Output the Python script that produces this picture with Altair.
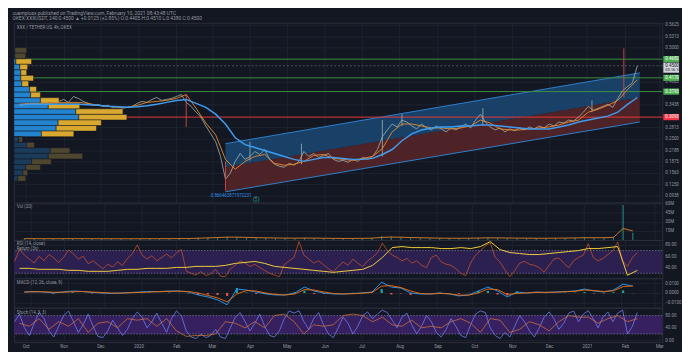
import altair as alt
import pandas as pd

# ---------------- texts ----------------
title_lines = [
    "cuemplusx published on TradingView.com, February 10, 2021 08:43:48 UTC",
    "OKEX:XXXUSDT, 240  0.4500 \u25b2 +0.0125 (+2.85%)  O:0.4405  H:0.4510  L:0.4380  C:0.4500",
]
symbol_label = "XXX / TETHER US, 4h, OKEX"
vol_label = "Vol (20)"
rsi_label = "RSI (14, close)"
ret_label = "Return (3x)"
macd_label = "MACD (12, 26, close, 9)"
stoch_label = "Stoch (14, 3, 3)"

# ---------------- time grid ----------------
fast_start = "2019-09-22"   # 4-day samples
slow_start = "2019-09-26"   # 8-day samples
months = [(2019, 10), (2019, 11), (2019, 12), (2020, 1), (2020, 2), (2020, 3),
          (2020, 4), (2020, 5), (2020, 6), (2020, 7), (2020, 8), (2020, 9),
          (2020, 10), (2020, 11), (2020, 12), (2021, 1), (2021, 2), (2021, 3)]

# ---------------- price (4-day) ----------------
close = [
    0.3443, 0.3470, 0.3497, 0.3524, 0.3470, 0.3416, 0.3497, 0.3551, 0.3470, 0.3524,
    0.3578, 0.3497, 0.3658, 0.3605, 0.3524, 0.3470, 0.3416, 0.3443, 0.3389, 0.3416,
    0.3362, 0.3389, 0.3335, 0.3362, 0.3389, 0.3470, 0.3524, 0.3497, 0.3578, 0.3631,
    0.3551, 0.3578, 0.3605, 0.3658, 0.3712, 0.3497, 0.3389, 0.3227, 0.3093, 0.2850,
    0.2635, 0.2419, 0.2015, 0.1395, 0.1557, 0.1880, 0.2096, 0.1934, 0.2015, 0.2150,
    0.2069, 0.2204, 0.1934, 0.1800, 0.1746, 0.1719, 0.1826, 0.1773, 0.1880, 0.2150,
    0.2015, 0.2096, 0.1988, 0.2042, 0.2096, 0.1934, 0.1880, 0.1907, 0.1853, 0.1934,
    0.1880, 0.1988, 0.1934, 0.2015, 0.2204, 0.2554, 0.2742, 0.2904, 0.2823, 0.3012,
    0.2958, 0.2850, 0.2769, 0.2904, 0.2796, 0.2742, 0.2850, 0.2769, 0.2689, 0.2796,
    0.2742, 0.2823, 0.2904, 0.2796, 0.3012, 0.3174, 0.2958, 0.2823, 0.2742, 0.2796,
    0.2689, 0.2769, 0.2716, 0.2796, 0.2742, 0.2823, 0.2769, 0.2850, 0.2796, 0.2904,
    0.2850, 0.2958, 0.2931, 0.3012, 0.2985, 0.3093, 0.3227, 0.3389, 0.3281, 0.3335,
    0.3389, 0.3443, 0.3362, 0.3605, 0.3820, 0.3928, 0.4036, 0.4500,
]
spike_dates = ["2020-02-09", "2020-03-12", "2020-04-01", "2020-05-13", "2020-07-18",
               "2020-08-03", "2020-10-08", "2021-01-05", "2021-01-31"]
spike_low = [0.2823, 0.1072, 0.1900, 0.1800, 0.2015, 0.2850, 0.2850, 0.3227, 0.3631]
spike_high = [0.3712, 0.1880, 0.2419, 0.2365, 0.3012, 0.3174, 0.3335, 0.3551, 0.4978]
spike_dir = ["down", "down", "up", "up", "up", "up", "up", "up", "down"]

# ---------------- moving averages (8-day) ----------------
ma_long = [
    0.3416, 0.3443, 0.3443, 0.3443, 0.3443, 0.3443, 0.3443, 0.3429, 0.3416, 0.3389,
    0.3376, 0.3362, 0.3376, 0.3402, 0.3443, 0.3497, 0.3551, 0.3578, 0.3470, 0.3362,
    0.3174, 0.2904, 0.2527, 0.2338, 0.2258, 0.2177, 0.2096, 0.2015, 0.1934, 0.1880,
    0.1934, 0.1988, 0.1988, 0.1961, 0.1934, 0.1934, 0.1961, 0.2069, 0.2204, 0.2446,
    0.2635, 0.2742, 0.2796, 0.2823, 0.2823, 0.2850, 0.2850, 0.2877, 0.2877, 0.2850,
    0.2823, 0.2796, 0.2769, 0.2769, 0.2769, 0.2823, 0.2877, 0.2958, 0.3012, 0.3066,
    0.3120, 0.3227, 0.3443, 0.3631,
]
ma_short = [
    0.3443, 0.3470, 0.3470, 0.3470, 0.3497, 0.3497, 0.3497, 0.3470, 0.3416, 0.3389,
    0.3362, 0.3362, 0.3416, 0.3497, 0.3524, 0.3551, 0.3605, 0.3712, 0.3335, 0.2931,
    0.2608, 0.1934, 0.1665, 0.1880, 0.2015, 0.2069, 0.1826, 0.1773, 0.1800, 0.1880,
    0.2042, 0.2069, 0.1961, 0.1934, 0.1907, 0.1961, 0.2015, 0.2231, 0.2689, 0.2904,
    0.2904, 0.2850, 0.2796, 0.2796, 0.2769, 0.2796, 0.2850, 0.3012, 0.2931, 0.2769,
    0.2742, 0.2742, 0.2769, 0.2796, 0.2823, 0.2877, 0.2958, 0.3012, 0.3227, 0.3308,
    0.3416, 0.3551, 0.3847, 0.4116,
]

# ---------------- regression channel & levels ----------------
channel_dates = ["2020-03-12", "2021-02-13"]
channel_top = [0.2365, 0.4305]
channel_mid = [0.1719, 0.3631]
channel_bot = [0.1045, 0.2958]
pearson_text = "0.866463871972231"
pearson_date = "2020-02-29"
pearson_price = 0.0937
event_date = "2020-04-06"
event_price = 0.0830
event_text = "5"
green_levels = [0.4682, 0.4170, 0.3793]
red_levels = [0.3093]
last_price = 0.4500
countdown = "03:16:16"
price_ticks = [0.09375, 0.125, 0.15625, 0.1875, 0.21875, 0.25, 0.28125,
               0.34375, 0.40625, 0.5, 0.53125, 0.5625]

# ---------------- volume profile ----------------
profile_edges = [0.5000, 0.4847, 0.4695, 0.4542, 0.4389, 0.4237, 0.4084, 0.3931, 0.3778,
                 0.3626, 0.3473, 0.3320, 0.3168, 0.3015, 0.2862, 0.2710, 0.2557, 0.2404,
                 0.2251, 0.2099, 0.1946, 0.1793, 0.1641, 0.1488, 0.1335]
profile_up = [1.5, 1.5, 3, 9, 10.5, 10.5, 12, 24, 25.5, 40.5, 52.5, 94.5, 99, 67.5, 64.5,
              42, 7.5, 19.5, 55.5, 52.5, 27, 18, 13.5, 6]
profile_down = [18, 16.5, 24, 12, 9, 19.5, 10.5, 10.5, 15, 28.5, 48, 72, 73.5, 66, 61.5,
                49.5, 6, 12, 30, 52.5, 30, 22.5, 7.5, 12]
profile_in_va = [False, False] + [True] * 14 + [False] * 8

# ---------------- volume (8-day, millions) ----------------
volume = [
    2.2, 2.0, 2.1, 1.9, 2.0, 2.3, 2.1, 1.9, 1.8, 1.9,
    1.8, 1.9, 2.0, 2.0, 2.1, 2.2, 2.3, 2.5, 3.5, 4.0,
    4.5, 5.5, 4.5, 3.8, 3.5, 3.2, 3.0, 2.8, 2.8, 3.5,
    2.8, 2.6, 2.5, 2.5, 2.6, 2.8, 3.2, 6.5, 5.5, 4.2,
    3.8, 3.4, 3.0, 2.8, 2.7, 2.8, 2.8, 3.5, 4.0, 3.2,
    3.0, 2.8, 2.8, 2.7, 2.8, 3.0, 3.2, 3.5, 4.0, 3.6,
    3.8, 5.0, 58.0, 12.0,
]
volume_ma = [
    2.1, 2.1, 2.0, 2.0, 2.0, 2.1, 2.1, 2.0, 1.9, 1.9,
    1.9, 1.9, 1.9, 2.0, 2.0, 2.1, 2.2, 2.3, 2.8, 3.4,
    4.0, 4.6, 4.6, 4.2, 3.8, 3.5, 3.2, 3.0, 2.9, 3.1,
    3.0, 2.8, 2.6, 2.5, 2.5, 2.6, 2.9, 4.2, 4.8, 4.5,
    4.0, 3.6, 3.3, 3.0, 2.8, 2.8, 2.8, 3.1, 3.5, 3.4,
    3.2, 3.0, 2.9, 2.8, 2.8, 2.9, 3.1, 3.3, 3.7, 3.7,
    3.7, 4.2, 19.0, 15.0,
]
vol_ticks = [15, 30, 45, 60]

# ---------------- RSI (4-day) & return line (8-day) ----------------
rsi = [
    51, 72, 62, 55, 48, 60, 52, 63, 57, 49,
    58, 71, 64, 55, 60, 47, 52, 45, 38, 46,
    41, 50, 44, 56, 64, 80, 62, 55, 61, 52,
    58, 64, 57, 66, 72, 34, 30, 27, 33, 26,
    29, 37, 25, 24, 38, 44, 52, 48, 42, 46,
    40, 35, 30, 27, 24, 45, 52, 58, 86, 62,
    55, 48, 52, 45, 38, 33, 42, 50, 44, 55,
    48, 42, 52, 58, 66, 83, 70, 62, 58, 52,
    56, 48, 52, 44, 40, 58, 62, 50, 46, 44,
    38, 30, 26, 48, 62, 70, 78, 84, 58, 50,
    36, 24, 35, 48, 51, 46, 44, 40, 32, 44,
    55, 57, 48, 40, 52, 58, 62, 82, 58, 52,
    56, 63, 70, 85, 52, 42, 58, 66,
]
ret_line = [
    38.7, 38.7, 37, 37, 37, 35.2, 35.2, 33.5, 33.5, 33.5,
    35.2, 37, 37, 38.7, 38.7, 38.7, 40.4, 40.4, 42.2, 42.2,
    42.2, 43.9, 47.4, 49.1, 50.9, 47.4, 42.2, 40.4, 38.7, 37,
    35.2, 33.5, 31.7, 33.5, 35.2, 37, 43.9, 57.8, 75.2, 77,
    75.2, 75.2, 75.2, 73.5, 73.5, 75.2, 73.5, 77, 85.7, 71.7,
    66.5, 64.8, 63, 63, 64.8, 66.5, 68.3, 70, 73.5, 73.5,
    75.2, 77, 26.5, 35.2,
]
rsi_band = [30, 70]
rsi_ticks = [40, 60, 80]

# ---------------- MACD (8-day) ----------------
macd = [
    0.0010, 0.0015, 0.0010, 0.0000, 0.0010, 0.0020, 0.0015, 0.0005, 0.0000, -0.0005,
    0.0000, 0.0005, 0.0010, 0.0015, 0.0015, 0.0020, 0.0020, 0.0010, -0.0020, -0.0040,
    -0.0070, -0.0120, 0.0040, 0.0030, 0.0010, -0.0010, -0.0020, -0.0020, 0.0000, 0.0060,
    0.0020, 0.0000, -0.0010, -0.0010, -0.0005, 0.0000, 0.0010, 0.0110, 0.0060, 0.0050,
    0.0000, -0.0010, -0.0010, 0.0000, -0.0010, -0.0030, -0.0020, 0.0020, 0.0060, 0.0020,
    -0.0040, 0.0010, 0.0000, 0.0010, 0.0005, 0.0010, 0.0015, 0.0020, 0.0040, 0.0020,
    0.0010, 0.0030, 0.0090, 0.0070,
]
signal = [
    0.0010, 0.0012, 0.0012, 0.0008, 0.0008, 0.0012, 0.0015, 0.0010, 0.0005, 0.0000,
    -0.0002, 0.0002, 0.0006, 0.0010, 0.0013, 0.0016, 0.0018, 0.0015, 0.0000, -0.0025,
    -0.0050, -0.0090, -0.0010, 0.0025, 0.0020, 0.0000, -0.0015, -0.0020, -0.0010, 0.0035,
    0.0030, 0.0010, -0.0005, -0.0010, -0.0008, -0.0002, 0.0005, 0.0070, 0.0075, 0.0055,
    0.0020, -0.0005, -0.0010, -0.0005, -0.0008, -0.0022, -0.0022, 0.0000, 0.0040, 0.0035,
    -0.0015, -0.0005, 0.0000, 0.0005, 0.0007, 0.0008, 0.0012, 0.0017, 0.0030, 0.0025,
    0.0015, 0.0022, 0.0065, 0.0072,
]
hist = [
    0.0000, 0.0003, -0.0002, -0.0008, 0.0002, 0.0008, 0.0000, -0.0005, -0.0005, -0.0005,
    0.0002, 0.0003, 0.0004, 0.0005, 0.0002, 0.0004, 0.0002, -0.0005, -0.0020, -0.0015,
    -0.0020, -0.0030, 0.0050, 0.0005, -0.0010, -0.0010, -0.0005, 0.0000, 0.0010, 0.0025,
    -0.0010, -0.0010, -0.0005, 0.0000, 0.0003, 0.0002, 0.0005, 0.0040, -0.0015, -0.0005,
    -0.0020, -0.0005, 0.0000, 0.0005, -0.0002, -0.0008, 0.0002, 0.0020, 0.0020, -0.0015,
    -0.0025, 0.0015, 0.0000, 0.0005, -0.0002, 0.0002, 0.0003, 0.0003, 0.0010, -0.0005,
    -0.0005, 0.0008, 0.0025, -0.0002,
]
macd_ticks = [-0.01, 0.0, 0.01]

# ---------------- Stochastic ----------------
stoch_k = [
    60, 85, 40, 15, 55, 90, 70, 30, 10, 45,
    80, 95, 60, 25, 50, 85, 45, 12, 8, 30,
    65, 40, 15, 35, 70, 92, 75, 40, 60, 88,
    55, 25, 70, 95, 80, 30, 10, 5, 20, 8,
    15, 35, 10, 5, 40, 75, 90, 60, 30, 55,
    85, 45, 15, 10, 30, 70, 95, 88, 96, 60,
    35, 70, 90, 50, 20, 8, 40, 75, 55, 20,
    45, 80, 92, 70, 85, 98, 90, 65, 40, 75,
    88, 50, 20, 45, 80, 60, 25, 10, 35, 70,
    45, 15, 8, 50, 85, 95, 90, 40, 15, 5,
    25, 10, 45, 80, 60, 30, 10, 40, 75, 92,
    70, 35, 55, 88, 95, 60, 85, 96, 70, 40,
    75, 92, 60, 88, 98, 20, 45, 90,
]
stoch_d = [
    55, 45, 70, 35, 60, 45, 70, 25, 55, 60,
    40, 70, 65, 70, 45, 70, 30, 12, 15, 15,
    20, 60, 55, 40, 60, 40, 80, 85, 60, 20,
    50, 45, 50, 80, 85, 80, 60, 75, 50, 45,
    65, 40, 45, 40, 60, 70, 55, 25, 70, 65,
    25, 35, 60, 50, 30, 60, 80, 75, 75, 55,
    70, 80, 60, 70,
]
stoch_band = [20, 80]
stoch_ticks = [0, 40, 80]

# ================= styling =================
BG = "#131722"
GRID = "#1f2330"
TXT = "#9598a1"
FONT = "Roboto"
W = 660
H_MAIN, H_VOL, H_RSI, H_MACD, H_STOCH = 183, 38, 39, 30, 35

X_DOMAIN = [alt.DateTime(year=2019, month=9, date=21, hours=10),
            alt.DateTime(year=2021, month=3, date=3, hours=10)]
MONTH_VALUES = [alt.DateTime(year=y, month=m, date=1) for y, m in months]


def x_axis(labels=False):
    return alt.Axis(values=MONTH_VALUES, grid=True, gridColor=GRID, gridWidth=1,
                    labels=labels, ticks=False, domain=False, title=None,
                    labelExpr="month(datum.value) == 0 ? timeFormat(datum.value, '%Y') : timeFormat(datum.value, '%b')",
                    labelFontSize=4.5, labelColor=TXT, labelFont=FONT, labelPadding=1.5,
                    labelFlush=False, labelOverlap=False)


def X(field, labels=False, axis=True):
    return alt.X(f"{field}:T", scale=alt.Scale(domain=X_DOMAIN),
                 axis=x_axis(labels) if axis else None)


def y_axis(values, fmt=None, expr=None):
    kw = dict(orient="right", values=values, grid=True, gridColor=GRID, ticks=False,
              domain=False, title=None, labelFontSize=4.5, labelColor=TXT, labelFont=FONT,
              labelPadding=2.5, labelOverlap=False, labelFlush=False)
    if fmt:
        kw["format"] = fmt
    if expr:
        kw["labelExpr"] = expr
    return alt.Axis(**kw)


def make_y(domain, axis):
    def f(field):
        return alt.Y(f"{field}:Q", scale=alt.Scale(domain=domain, nice=False, zero=False), axis=axis)
    return f


def label(text, x=3, y=5, color=TXT):
    return alt.Chart(pd.DataFrame({"d": [0]})).mark_text(
        text=text, align="left", baseline="middle", fontSize=4.5, font=FONT, color=color
    ).encode(x=alt.value(x), y=alt.value(y))


YP = make_y([0.0749, 0.5679], y_axis(price_ticks, fmt=".4f"))
YV = make_y([0, 62], y_axis(vol_ticks, expr="datum.value + 'M'"))
YR = make_y([21.3, 88.7], y_axis(rsi_ticks, fmt=".2f"))
YM = make_y([-0.015, 0.015], y_axis(macd_ticks, fmt=".4f"))
YS = make_y([-6.7, 105.7], y_axis(stoch_ticks, fmt=".2f"))

# ================= tables =================
fast_dates = pd.date_range(fast_start, periods=len(close), freq="4D")
slow_dates = pd.date_range(slow_start, periods=len(ma_long), freq="8D")
price_df = pd.DataFrame({"date": fast_dates, "close": close, "rsi": rsi, "k": stoch_k})
slow_df = pd.DataFrame({"date": slow_dates, "long": ma_long, "short": ma_short,
                        "vol": volume, "vma": volume_ma, "ret": ret_line,
                        "macd": macd, "signal": signal, "hist": hist, "d": stoch_d})
spike_df = pd.DataFrame({"date": pd.to_datetime(spike_dates), "lo": spike_low,
                         "hi": spike_high, "dir": spike_dir})
chan_df = pd.DataFrame({"date": pd.to_datetime(channel_dates), "top": channel_top,
                        "mid": channel_mid, "bot": channel_bot})
green_df = pd.DataFrame({"level": green_levels})
red_df = pd.DataFrame({"level": red_levels})
last_df = pd.DataFrame({"level": [last_price]})

BOX = 0.0085
box_rows = []
for v in green_levels:
    box_rows.append({"level": v, "lo": v - BOX, "hi": v + BOX, "text": f"{v:.4f}", "kind": "green"})
for v in red_levels:
    box_rows.append({"level": v, "lo": v - BOX, "hi": v + BOX, "text": f"{v:.4f}", "kind": "red"})
box_df = pd.DataFrame(box_rows)
last_box_df = pd.DataFrame({"level": [last_price], "lo": [last_price - 0.019],
                            "hi": [last_price + BOX], "text": [f"{last_price:.4f}"],
                            "sub": [last_price - 0.0115], "cd": [countdown]})
pearson_df = pd.DataFrame({"date": pd.to_datetime([pearson_date]), "p": [pearson_price]})
event_df = pd.DataFrame({"date": pd.to_datetime([event_date]), "p": [event_price]})

prof_rows = []
for k in range(len(profile_up)):
    tag = "va" if profile_in_va[k] else "out"
    lo, hi = profile_edges[k + 1], profile_edges[k]
    prof_rows.append({"lo": lo, "hi": hi, "x0": 0, "x1": profile_up[k], "kind": "up_" + tag})
    prof_rows.append({"lo": lo, "hi": hi, "x0": profile_up[k],
                      "x1": profile_up[k] + profile_down[k], "kind": "down_" + tag})
prof_df = pd.DataFrame(prof_rows)
band_rsi = pd.DataFrame({"lo": [rsi_band[0]], "hi": [rsi_band[1]]})
band_rsi_lines = pd.DataFrame({"v": rsi_band})
band_st = pd.DataFrame({"lo": [stoch_band[0]], "hi": [stoch_band[1]]})
band_st_lines = pd.DataFrame({"v": stoch_band})

# ================= main panel =================
bg_layers = alt.layer(
    alt.Chart(chan_df).mark_area(color="#1b4670", opacity=0.9).encode(x=X("date"), y=YP("mid"), y2="top"),
    alt.Chart(chan_df).mark_area(color="#552528", opacity=0.9).encode(x=X("date"), y=YP("bot"), y2="mid"),
    alt.Chart(chan_df).mark_line(color="#2e7fcf", strokeWidth=1).encode(x=X("date"), y=YP("top")),
    alt.Chart(chan_df).mark_line(color="#2e7fcf", strokeWidth=1).encode(x=X("date"), y=YP("bot")),
    alt.Chart(green_df).mark_rule(color="#3e8e41", strokeWidth=1).encode(y=YP("level")),
    alt.Chart(red_df).mark_rule(color="#e53935", strokeWidth=1).encode(y=YP("level")),
    alt.Chart(last_df).mark_rule(color="#5d606b", strokeWidth=0.8, strokeDash=[2, 2]).encode(y=YP("level")),
    alt.Chart(price_df).mark_line(color="#9db5ad", strokeWidth=0.8).encode(x=X("date"), y=YP("close")),
    alt.Chart(spike_df).mark_rule(color="#9db5ad", strokeWidth=0.8).encode(
        x=X("date"), y=YP("lo"), y2="hi").transform_filter(alt.datum.dir == "up"),
    alt.Chart(spike_df).mark_rule(color="#d84a4a", strokeWidth=0.9).encode(
        x=X("date"), y=YP("lo"), y2="hi").transform_filter(alt.datum.dir == "down"),
)

PX = alt.X("x0:Q", scale=alt.Scale(domain=[0, 990], nice=False, zero=True), axis=None)
prof_colors = {"up_va": "#2383cf", "down_va": "#d9a82e", "up_out": "#1b3b5b", "down_out": "#4f4630"}
profile_layers = alt.layer(*[
    alt.Chart(prof_df).mark_rect(color=c, stroke=BG, strokeWidth=0.5).encode(
        x=PX, x2="x1", y=YP("lo"), y2="hi").transform_filter(alt.datum.kind == kname)
    for kname, c in prof_colors.items()
])

top_layers = alt.layer(
    alt.Chart(slow_df).mark_line(color="#f0892b", strokeWidth=0.9).encode(x=X("date", axis=False), y=YP("short")),
    alt.Chart(slow_df).mark_line(color="#3d9cf0", strokeWidth=1.5).encode(x=X("date", axis=False), y=YP("long")),
    alt.Chart(pearson_df).mark_text(text=pearson_text, align="left", baseline="middle", fontSize=4.5,
                                    font=FONT, color="#2e8ee8").encode(x=X("date", axis=False), y=YP("p")),
    alt.Chart(event_df).mark_point(shape="circle", size=38, filled=False, color="#26a69a",
                                   strokeWidth=0.8).encode(x=X("date", axis=False), y=YP("p")),
    alt.Chart(event_df).mark_text(text=event_text, fontSize=4.5, font=FONT, color="#26a69a",
                                  baseline="middle").encode(x=X("date", axis=False), y=YP("p")),
    alt.Chart(box_df).mark_rect(color="#4caf50").encode(
        x=alt.value(W + 1), x2=alt.value(W + 17), y=YP("lo"), y2="hi").transform_filter(alt.datum.kind == "green"),
    alt.Chart(box_df).mark_rect(color="#f23645").encode(
        x=alt.value(W + 1), x2=alt.value(W + 17), y=YP("lo"), y2="hi").transform_filter(alt.datum.kind == "red"),
    alt.Chart(box_df).mark_text(align="left", baseline="middle", fontSize=4.5, font=FONT, color="#ffffff").encode(
        x=alt.value(W + 3), y=YP("level"), text="text:N"),
    alt.Chart(last_box_df).mark_rect(color="#d1d4dc").encode(
        x=alt.value(W + 1), x2=alt.value(W + 17), y=YP("lo"), y2="hi"),
    alt.Chart(last_box_df).mark_text(align="left", baseline="middle", fontSize=4.5, font=FONT, color="#131722").encode(
        x=alt.value(W + 3), y=YP("level"), text="text:N"),
    alt.Chart(last_box_df).mark_text(align="left", baseline="middle", fontSize=4, font=FONT, color="#131722").encode(
        x=alt.value(W + 3), y=YP("sub"), text="cd:N"),
    label(symbol_label, y=5),
)

main = alt.layer(bg_layers, profile_layers, top_layers).resolve_scale(x="independent").properties(
    width=W, height=H_MAIN)

# ================= volume =================
vol_panel = alt.layer(
    alt.Chart(slow_df).mark_bar(color="#26a69a", opacity=0.7, width=1.2).encode(x=X("date"), y=YV("vol")),
    alt.Chart(slow_df).mark_line(color="#e0822a", strokeWidth=0.9).encode(x=X("date"), y=YV("vma")),
    label(vol_label, y=5),
).properties(width=W, height=H_VOL)

# ================= RSI =================
rsi_panel = alt.layer(
    alt.Chart(band_rsi).mark_rect(color="#2c2050").encode(x=alt.value(0), x2=alt.value(W), y=YR("hi"), y2="lo"),
    alt.Chart(band_rsi_lines).mark_rule(color="#77728f", strokeWidth=0.8, strokeDash=[1.5, 1.5]).encode(y=YR("v")),
    alt.Chart(price_df).mark_line(color="#d8582a", strokeWidth=0.7, clip=True).encode(x=X("date"), y=YR("rsi")),
    alt.Chart(slow_df).mark_line(color="#f2cf3a", strokeWidth=1, clip=True).encode(x=X("date"), y=YR("ret")),
    label(rsi_label, y=4),
    label(ret_label, y=9),
).properties(width=W, height=H_RSI)

# ================= MACD =================
macd_panel = alt.layer(
    alt.Chart(slow_df).mark_bar(width=2.2).encode(
        x=X("date"), y=YM("hist"),
        color=alt.condition(alt.datum.hist >= 0, alt.value("#26a69a"), alt.value("#ef5350"))),
    alt.Chart(slow_df).mark_line(color="#2196f3", strokeWidth=1).encode(x=X("date"), y=YM("macd")),
    alt.Chart(slow_df).mark_line(color="#ff6d00", strokeWidth=0.9).encode(x=X("date"), y=YM("signal")),
    label(macd_label, y=5),
).properties(width=W, height=H_MACD)

# ================= Stoch =================
stoch_panel = alt.layer(
    alt.Chart(band_st).mark_rect(color="#36205f").encode(x=alt.value(0), x2=alt.value(W), y=YS("hi"), y2="lo"),
    alt.Chart(band_st_lines).mark_rule(color="#77728f", strokeWidth=0.8, strokeDash=[1.5, 1.5]).encode(y=YS("v")),
    alt.Chart(price_df).mark_line(color="#6f7ef0", strokeWidth=0.8, clip=True).encode(x=X("date", labels=True), y=YS("k")),
    alt.Chart(slow_df).mark_line(color="#e07a3a", strokeWidth=0.7, clip=True).encode(x=X("date", labels=True), y=YS("d")),
    label(stoch_label, y=5),
).properties(width=W, height=H_STOCH)

chart = alt.vconcat(main, vol_panel, rsi_panel, macd_panel, stoch_panel, spacing=0, bounds="flush").properties(
    title=alt.TitleParams(text=title_lines, anchor="start", fontSize=5, lineHeight=5, color=TXT,
                          font=FONT, fontWeight="normal", offset=0),
    padding={"left": 4, "top": 0, "right": 0, "bottom": 0},
).configure(background=BG).configure_view(stroke="#2a2e39", strokeWidth=1)

chart.save("out.html", embed_options={"renderer": "svg", "actions": False})
